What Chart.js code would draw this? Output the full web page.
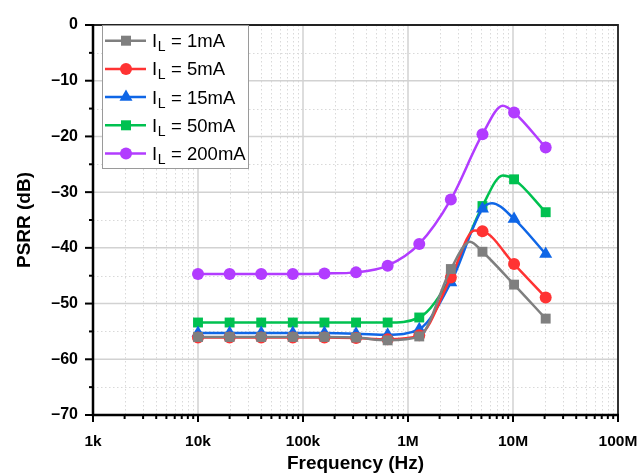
<!DOCTYPE html>
<html>
<head>
<meta charset="utf-8">
<title>PSRR vs Frequency</title>
<script src="https://cdn.jsdelivr.net/npm/chart.js@4.4.0/dist/chart.umd.min.js"></script>
<style>
  body { margin: 0; background: #fff; }
  #wrap { width: 643px; height: 475px; }
</style>
</head>
<body>
<div id="wrap"><canvas id="psrrChart"></canvas></div>
<script>
// frequencies of the plotted markers (Hz)
const freqs = [1e4, 2e4, 4e4, 8e4, 1.6e5, 3.2e5, 6.4e5, 1.28e6, 2.56e6, 5.12e6, 1.024e7, 2.048e7];

// PSRR (dB) at each marker
const psrr1mA   = [-56.0, -56.0, -56.0, -56.0, -56.0, -56.1, -56.6, -55.9, -43.8, -40.7, -46.6, -52.7];
const psrr5mA   = [-56.1, -56.1, -56.1, -56.1, -56.1, -56.2, -56.4, -55.7, -45.3, -37.0, -42.9, -48.9];
const psrr15mA  = [-55.3, -55.3, -55.3, -55.3, -55.3, -55.4, -55.6, -54.6, -46.2, -33.0, -34.8, -41.1];
const psrr50mA  = [-53.4, -53.4, -53.4, -53.4, -53.4, -53.4, -53.4, -52.5, -45.2, -32.5, -27.7, -33.6];
const psrr200mA = [-44.7, -44.7, -44.7, -44.7, -44.6, -44.4, -43.2, -39.3, -31.3, -19.6, -15.7, -22.0];

// curve tops that fall between markers (no marker drawn there)
const peak1mA   = [[3.9e6, -38.9]];
const peak5mA   = [[4.3e6, -36.9]];
const peak15mA  = [[6.3e6, -32.0]];
const peak50mA  = [[8.0e6, -27.0]];
const peak200mA = [[8.0e6, -14.5]];

const xTicks = [1e3, 1e4, 1e5, 1e6, 1e7, 1e8];
const xTickLabels = ['1k', '10k', '100k', '1M', '10M', '100M'];
const yTicks = [0, -10, -20, -30, -40, -50, -60, -70];

const seriesNames = ['1mA', '5mA', '15mA', '50mA', '200mA'];
const seriesColors = ['#7f7f7f', '#ff3333', '#0f66e6', '#00c150', '#b23cff'];
const seriesMarkers = ['rect', 'circle', 'triangle', 'rect', 'circle'];

function buildPoints(vals, extra) {
    const pts = freqs.map((f, i) => ({ x: f, y: vals[i], m: true }));
    extra.forEach(p => pts.push({ x: p[0], y: p[1], m: false }));
    return pts.sort((a, b) => a.x - b.x);
}

const allVals = [psrr1mA, psrr5mA, psrr15mA, psrr50mA, psrr200mA];
const allPeaks = [peak1mA, peak5mA, peak15mA, peak50mA, peak200mA];

const markerRadius = { rect: 7, circle: 6, triangle: 7.5 };
const FONT = '"Liberation Sans", Arial, sans-serif';

const datasets = seriesNames.map((name, i) => ({
    label: 'IL = ' + name,
    data: buildPoints(allVals[i], allPeaks[i]),
    borderColor: seriesColors[i],
    backgroundColor: seriesColors[i],
    borderWidth: 2.5,
    pointStyle: seriesMarkers[i],
    pointRadius: ctx => (ctx.raw && ctx.raw.m ? markerRadius[seriesMarkers[i]] : 0),
    pointBorderWidth: 0,
    cubicInterpolationMode: 'monotone',
    fill: false
}));

// grid, tick marks and frame drawn off the chart's own scales
const frame = {
    id: 'frame',
    beforeDatasetsDraw(chart) {
        const { ctx, chartArea: a, scales: { x, y } } = chart;
        ctx.save();
        ctx.lineWidth = 1;
        // minor dotted grid
        ctx.strokeStyle = '#d9d9d9';
        ctx.setLineDash([1.5, 2.5]);
        for (let d = 1e3; d < 1e8; d *= 10) {
            for (let k = 2; k <= 9; k++) {
                const px = Math.round(x.getPixelForValue(d * k)) + 0.5;
                ctx.beginPath(); ctx.moveTo(px, a.top); ctx.lineTo(px, a.bottom); ctx.stroke();
            }
        }
        for (let v = -65; v < 0; v += 10) {
            const py = Math.round(y.getPixelForValue(v)) + 0.5;
            ctx.beginPath(); ctx.moveTo(a.left, py); ctx.lineTo(a.right, py); ctx.stroke();
        }
        // major solid grid
        ctx.setLineDash([]);
        ctx.strokeStyle = '#d2d2d2';
        ctx.lineWidth = 1.5;
        xTicks.forEach(v => {
            const px = x.getPixelForValue(v);
            ctx.beginPath(); ctx.moveTo(px, a.top); ctx.lineTo(px, a.bottom); ctx.stroke();
        });
        yTicks.forEach(v => {
            const py = y.getPixelForValue(v);
            ctx.beginPath(); ctx.moveTo(a.left, py); ctx.lineTo(a.right, py); ctx.stroke();
        });
        ctx.restore();
    },
    afterDatasetsDraw(chart) {
        const { ctx, chartArea: a, scales: { x, y } } = chart;
        ctx.save();
        // top and right frame
        ctx.strokeStyle = '#222';
        ctx.lineWidth = 1.8;
        ctx.beginPath();
        ctx.moveTo(a.left, a.top); ctx.lineTo(a.right, a.top); ctx.lineTo(a.right, a.bottom);
        ctx.stroke();
        // axes
        ctx.strokeStyle = '#000';
        ctx.lineWidth = 2.5;
        ctx.beginPath();
        ctx.moveTo(a.left, a.top - 1); ctx.lineTo(a.left, a.bottom); ctx.lineTo(a.right + 1, a.bottom);
        ctx.stroke();
        // tick marks
        ctx.lineWidth = 2;
        xTicks.forEach(v => {
            const px = x.getPixelForValue(v);
            ctx.beginPath(); ctx.moveTo(px, a.bottom); ctx.lineTo(px, a.bottom + 7); ctx.stroke();
        });
        for (let d = 1e3; d < 1e8; d *= 10) {
            for (let k = 2; k <= 9; k++) {
                const px = x.getPixelForValue(d * k);
                ctx.beginPath(); ctx.moveTo(px, a.bottom); ctx.lineTo(px, a.bottom + 4); ctx.stroke();
            }
        }
        yTicks.forEach(v => {
            const py = y.getPixelForValue(v);
            ctx.beginPath(); ctx.moveTo(a.left - 8, py); ctx.lineTo(a.left, py); ctx.stroke();
        });
        for (let v = -65; v < 0; v += 10) {
            const py = y.getPixelForValue(v);
            ctx.beginPath(); ctx.moveTo(a.left - 4, py); ctx.lineTo(a.left, py); ctx.stroke();
        }
        ctx.restore();
    }
};

function drawMarker(ctx, style, cx, cy, color) {
    ctx.fillStyle = color;
    ctx.beginPath();
    if (style === 'rect') {
        ctx.rect(cx - 5, cy - 5, 10, 10);
    } else if (style === 'circle') {
        ctx.arc(cx, cy, 6, 0, Math.PI * 2);
    } else {
        ctx.moveTo(cx, cy - 7.5);
        ctx.lineTo(cx + 6.5, cy + 3.75);
        ctx.lineTo(cx - 6.5, cy + 3.75);
        ctx.closePath();
    }
    ctx.fill();
}

// legend with subscript L
const subLegend = {
    id: 'subLegend',
    afterDraw(chart) {
        const ctx = chart.ctx;
        const box = { x: 102, y: 25, w: 146, h: 143 };
        ctx.save();
        ctx.fillStyle = '#fff';
        ctx.fillRect(box.x, box.y, box.w, box.h);
        ctx.strokeStyle = '#9a9a9a';
        ctx.lineWidth = 1;
        ctx.strokeRect(box.x + 0.5, box.y + 0.5, box.w, box.h);
        seriesNames.forEach((name, i) => {
            const cy = 40.7 + i * 28.2;
            ctx.strokeStyle = seriesColors[i];
            ctx.lineWidth = 2.5;
            ctx.beginPath(); ctx.moveTo(105, cy); ctx.lineTo(146, cy); ctx.stroke();
            drawMarker(ctx, seriesMarkers[i], 126, cy, seriesColors[i]);
            ctx.fillStyle = '#000';
            ctx.textBaseline = 'alphabetic';
            ctx.textAlign = 'left';
            ctx.font = '18.5px ' + FONT;
            ctx.fillText('I', 152, cy + 6.5);
            const iw = ctx.measureText('I').width;
            ctx.font = '14px ' + FONT;
            ctx.fillText('L', 152 + iw + 0.5, cy + 10.5);
            const lw = ctx.measureText('L').width;
            ctx.font = '18.5px ' + FONT;
            ctx.fillText(' = ' + name, 152 + iw + lw + 1, cy + 6.5);
        });
        ctx.restore();
    }
};

new Chart(document.getElementById('psrrChart'), {
    type: 'line',
    data: { datasets: datasets },
    options: {
        responsive: true,
        maintainAspectRatio: false,
        animation: false,
        layout: { padding: { top: 25, right: 25, left: 0, bottom: 0 } },
        plugins: {
            legend: { display: false },
            tooltip: { enabled: false }
        },
        scales: {
            x: {
                type: 'logarithmic',
                min: 1e3,
                max: 1e8,
                afterBuildTicks: s => { s.ticks = xTicks.map(v => ({ value: v })); },
                afterFit: s => { s.height = 60; s.paddingLeft = 0; s.paddingRight = 0; },
                grid: { display: false, drawTicks: false },
                border: { display: false },
                ticks: {
                    autoSkip: false,
                    maxRotation: 0,
                    padding: 17,
                    color: '#000',
                    font: { family: FONT, size: 15.5, weight: 'bold' },
                    callback: v => xTickLabels[xTicks.indexOf(v)]
                },
                title: {
                    display: true,
                    text: 'Frequency (Hz)',
                    color: '#000',
                    padding: { top: 0, bottom: 0 },
                    font: { family: FONT, size: 19, weight: 'bold' }
                }
            },
            y: {
                min: -70,
                max: 0,
                afterBuildTicks: s => { s.ticks = yTicks.map(v => ({ value: v })); },
                afterFit: s => { s.width = 93; s.paddingTop = 0; s.paddingBottom = 0; },
                grid: { display: false, drawTicks: false },
                border: { display: false },
                ticks: {
                    padding: 15,
                    color: '#000',
                    font: { family: FONT, size: 16, weight: 'bold' },
                    callback: v => (v < 0 ? '\u2013' + Math.abs(v) : String(v))
                },
                title: {
                    display: true,
                    text: 'PSRR (dB)',
                    color: '#000',
                    padding: { top: 13, bottom: 0 },
                    font: { family: FONT, size: 19, weight: 'bold' }
                }
            }
        }
    },
    plugins: [frame, subLegend]
});
</script>
</body>
</html>
